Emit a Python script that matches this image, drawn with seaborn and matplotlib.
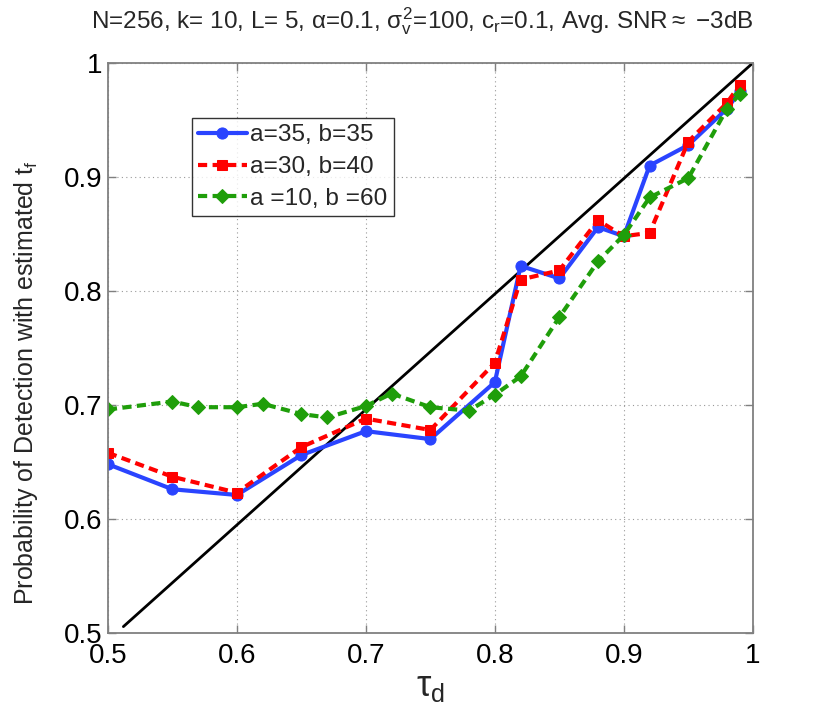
import numpy as np
import pandas as pd
import matplotlib
matplotlib.use("Agg")
import matplotlib.pyplot as plt
import seaborn as sns

x_ab = [0.5, 0.55, 0.6, 0.65, 0.7, 0.75, 0.8, 0.82, 0.85, 0.88, 0.9, 0.92, 0.95, 0.98, 0.99]
blue_y = [0.648, 0.626, 0.621, 0.656, 0.677, 0.670, 0.720, 0.822, 0.811, 0.856, 0.848, 0.910, 0.928, 0.960, 0.975]
red_y = [0.658, 0.637, 0.623, 0.663, 0.688, 0.678, 0.737, 0.810, 0.818, 0.862, 0.848, 0.851, 0.931, 0.965, 0.981]
x_green = [0.5, 0.55, 0.57, 0.6, 0.62, 0.65, 0.67, 0.7, 0.72, 0.75, 0.78, 0.8, 0.82, 0.85, 0.88, 0.9, 0.92, 0.95, 0.98, 0.99]
green_y = [0.696, 0.703, 0.698, 0.698, 0.701, 0.692, 0.689, 0.699, 0.710, 0.698, 0.695, 0.709, 0.725, 0.777, 0.826, 0.849, 0.882, 0.899, 0.960, 0.973]
ref_x = [0.512, 1.0]
ref_y = [0.5055, 1.0]
labels = ["a=35, b=35", "a=30, b=40", "a =10, b =60"]

sns.set_theme(style="white")
plt.rcParams['font.family'] = ['Liberation Sans', 'DejaVu Sans']
plt.rcParams['mathtext.fontset'] = 'custom'
plt.rcParams['mathtext.rm'] = 'Liberation Sans'
plt.rcParams['mathtext.it'] = 'Liberation Sans'

fig = plt.figure(figsize=(8.3, 7.2), dpi=100)
ax = fig.add_axes([0.130, 0.121, 0.777, 0.7915])

df_b = pd.DataFrame({"x": x_ab, "y": blue_y})
df_r = pd.DataFrame({"x": x_ab, "y": red_y})
df_g = pd.DataFrame({"x": x_green, "y": green_y})
df_ref = pd.DataFrame({"x": ref_x, "y": ref_y})

sns.lineplot(data=df_ref, x="x", y="y", ax=ax, color="black", lw=2, legend=False)
sns.lineplot(data=df_b, x="x", y="y", ax=ax, color="#2a44ff", lw=3, marker="o", markersize=8,
             markeredgecolor="#2a44ff", label=labels[0])
sns.lineplot(data=df_r, x="x", y="y", ax=ax, color="#ff0000", lw=3, linestyle=(0, (2.2, 1.3)), marker="s", markersize=7,
             markeredgecolor="#ff0000", label=labels[1])
sns.lineplot(data=df_g, x="x", y="y", ax=ax, color="#1f9e0a", lw=3, linestyle=(0, (2.2, 1.3)), marker="D", markersize=7,
             markeredgecolor="#1f9e0a", label=labels[2])

ax.set_xlim(0.5, 1.0)
ax.set_ylim(0.5, 1.0)
ticks = [0.5, 0.6, 0.7, 0.8, 0.9, 1.0]
ticklabels = ["0.5", "0.6", "0.7", "0.8", "0.9", "1"]
ax.set_xticks(ticks)
ax.set_xticklabels(ticklabels)
ax.set_yticks(ticks)
ax.set_yticklabels(ticklabels)
ax.tick_params(direction="in", length=6, width=1, color="#808080", labelcolor="black", labelsize=20,
               top=True, right=True, bottom=True, left=True)
ax.tick_params(axis="x", pad=7)
ax.tick_params(axis="y", pad=4)
for s in ax.spines.values():
    s.set_color("#808080")
    s.set_linewidth(1.3)
ax.grid(True, linestyle=(0, (1, 3)), color="#999999", linewidth=0.8)

ax.set_xlabel(r"$\tau_\mathrm{d}$", fontsize=26, labelpad=0)
ax.set_ylabel(r"Probability of Detection with estimated t$_\mathrm{f}$", fontsize=18)
ax.yaxis.set_label_coords(-0.106, 0.44)
ax.set_title(r"N=256, k= 10, L= 5, $\alpha$=0.1, $\sigma_\mathrm{v}^2$=100, c$_\mathrm{r}$=0.1, Avg. SNR$\approx$ $-$3dB",
             fontsize=17.5, pad=25, x=0.488)

leg = ax.legend(loc="upper left", bbox_to_anchor=(0.130, 0.9035), fontsize=17.6, frameon=True,
                fancybox=False, edgecolor="black", handlelength=2.0, handletextpad=0.15,
                borderpad=0.25, labelspacing=0.4, borderaxespad=0)
leg.get_frame().set_linewidth(1.0)

fig.savefig("out.png", dpi=100)
